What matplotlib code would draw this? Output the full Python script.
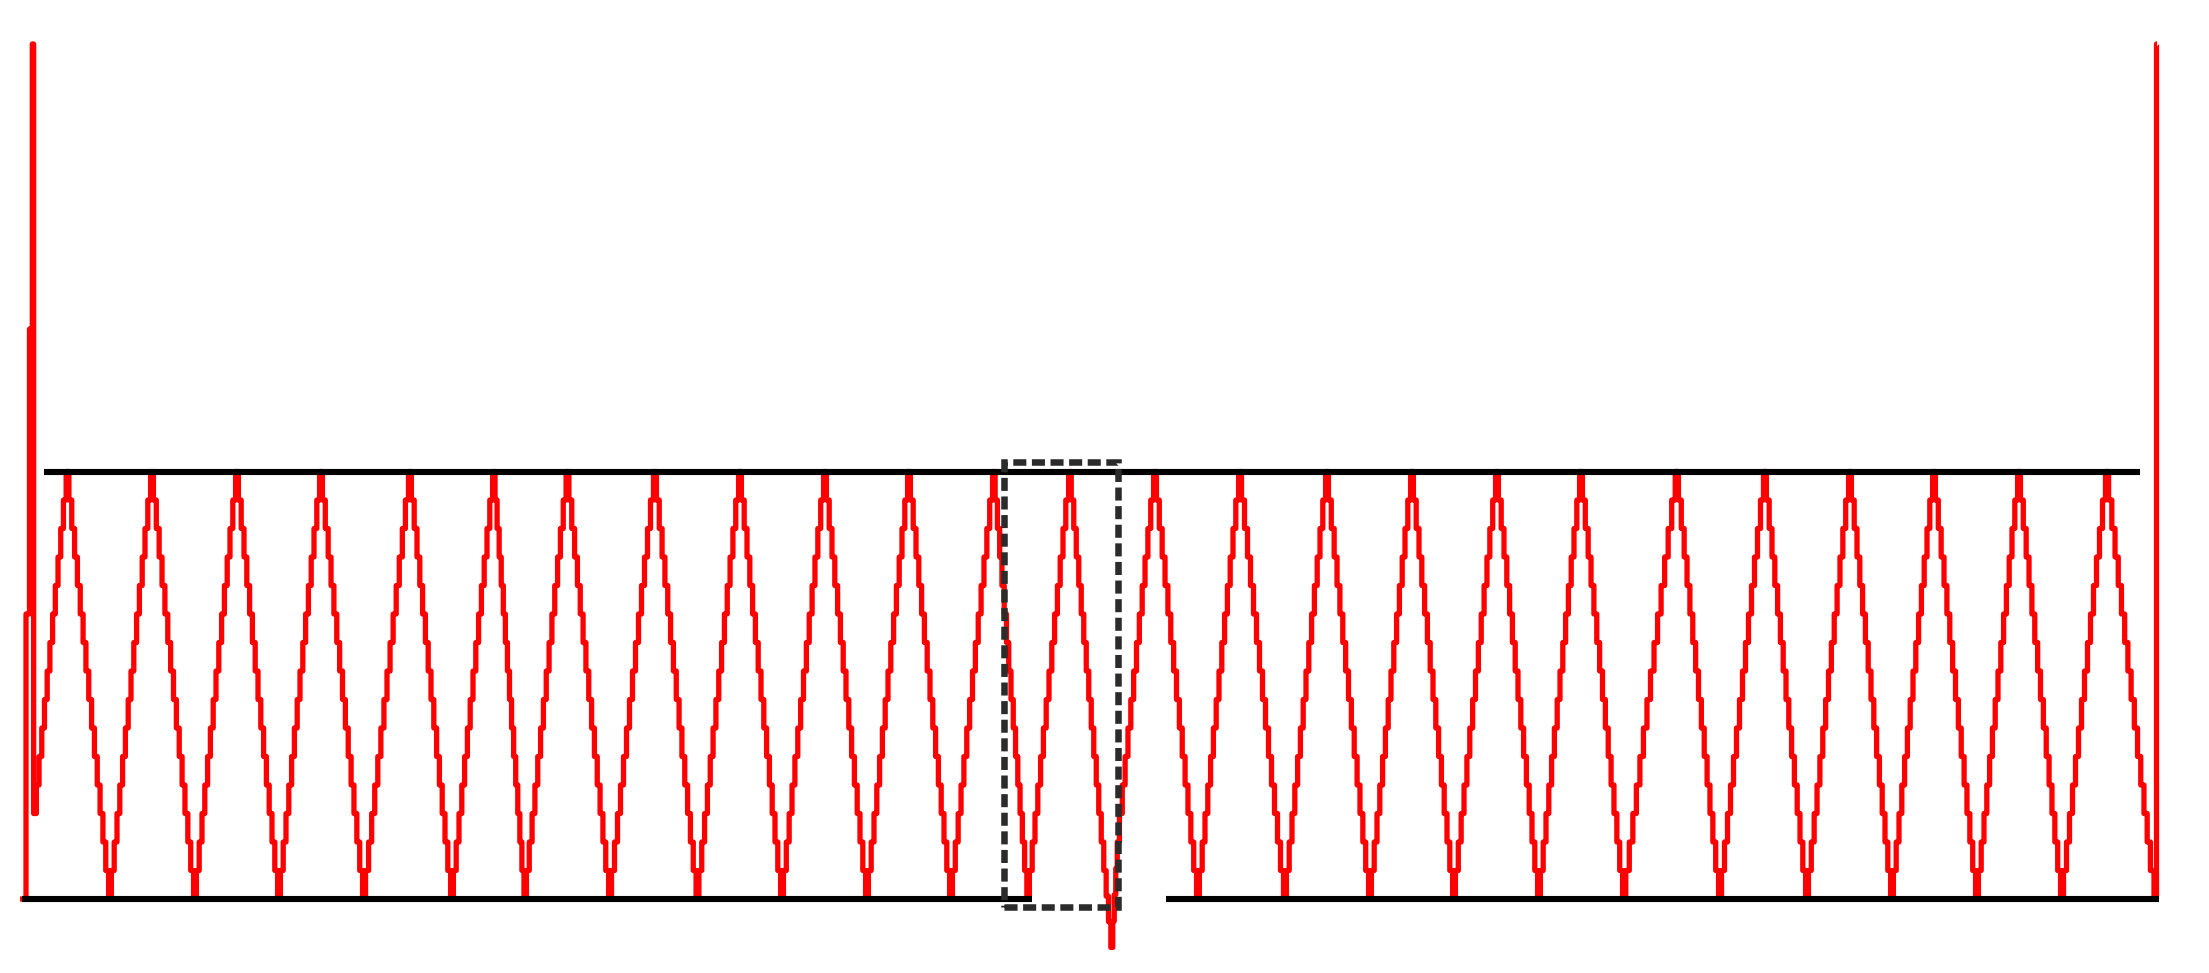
import numpy as np
import matplotlib
matplotlib.use("Agg")
import matplotlib.pyplot as plt
from matplotlib.patches import Rectangle

# turning points of the staircase (x position, DAC level)
turn_x = [35, 67.5, 110, 152, 195, 237, 279, 321, 364, 410, 452, 494, 525,
          567.5, 610, 655, 697.5, 740, 782, 825, 867, 909, 951, 994, 1028,
          1070, 1105, 1112, 1118, 1155, 1198, 1240, 1285, 1327, 1370, 1412,
          1454, 1497, 1539, 1581, 1624, 1677, 1720, 1765, 1807, 1850, 1892,
          1934, 1977, 2019, 2062, 2107, 2152]
turn_level = [3, 15, 0, 15, 0, 15, 0, 15, 0, 15, 0, 15, 0,
              15, 0, 15, 0, 15, 0, 15, 0, 15, 0, 15, 0,
              15, 1, -1.7, 2, 15, 0, 15, 0, 15, 0, 15,
              0, 15, 0, 15, 0, 15, 0, 15, 0, 15, 0,
              15, 0, 15, 0, 15, 1]

# glitch spikes at both ends
start_x = [20, 26, 29.5, 32.3]
start_level = [0, 10, 20, 30]
end_x = [2154, 2156.5, 2157]
end_level = [0, 30, 30]

# black reference lines: (level, x from, x to)
ref_lines = [(15, 44, 2140), (0, 22, 1032), (0, 1166, 2159)]

# dashed box: x0, x1, level bottom, level top
box = (1004, 1118, -0.28, 15.33)


def staircase(tx, tl):
    # one DAC code per sample, unit steps between turning points
    xs, ys = [], []
    w0 = (tx[1] - tx[0]) / abs(tl[1] - tl[0])
    xs.append(tx[0] - 0.5 * w0)
    ys.append(tl[0])
    for x0, v0, x1, v1 in zip(tx[:-1], tl[:-1], tx[1:], tl[1:]):
        n = max(1, round(abs(v1 - v0)))
        s = (v1 - v0) / n
        w = (x1 - x0) / n
        for k in range(1, n + 1):
            xs.append(x0 + (k - 0.5) * w)
            ys.append(v0 + k * s)
    return xs, ys


sx, sy = staircase(turn_x, turn_level)
x = np.array(start_x + sx + end_x)
y = np.array(start_level + sy + end_level)

fig = plt.figure(figsize=(22.09, 9.73), dpi=100)
ax = fig.add_axes([0, 0, 1, 1])
ax.set_xlim(0, 2209)
px = 28.5  # pixels per level
ax.set_ylim(-(973 - 899) / px, 899 / px)
ax.axis("off")

ax.plot(x, y, drawstyle="steps-post", color="#ff0000", lw=3.8,
        solid_capstyle="butt", zorder=2)

for lev, xa, xb in ref_lines:
    ax.plot([xa, xb], [lev, lev], color="black", lw=4.4,
            solid_capstyle="butt", zorder=3)

bx0, bx1, by0, by1 = box
ax.add_patch(Rectangle((bx0, by0), bx1 - bx0, by1 - by0, fill=False,
                       edgecolor="#2b2b2b", lw=4.7, linestyle=(0, (2, 0.85)),
                       zorder=4))

fig.savefig("out.png", dpi=100, facecolor="white")
